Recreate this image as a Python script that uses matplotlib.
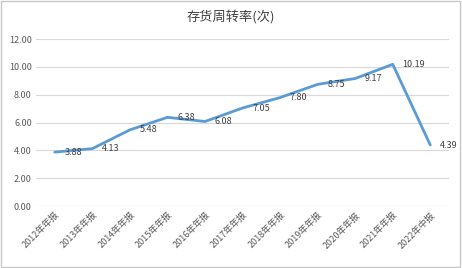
import matplotlib
matplotlib.use("Agg")
import matplotlib.pyplot as plt
from matplotlib.patches import Rectangle

plt.rcParams['font.family'] = ['Noto Sans CJK SC', 'DejaVu Sans']

categories = ['2012年年报', '2013年年报', '2014年年报', '2015年年报', '2016年年报',
              '2017年年报', '2018年年报', '2019年年报', '2020年年报', '2021年年报', '2022年中报']
values = [3.88, 4.13, 5.48, 6.38, 6.08, 7.05, 7.80, 8.75, 9.17, 10.19, 4.39]
yticks = [0, 2, 4, 6, 8, 10, 12]

fig = plt.figure(figsize=(4.62, 2.68), dpi=100)
fig.patches.append(Rectangle((0.002, 0.004), 0.994, 0.992, transform=fig.transFigure,
                             fill=False, edgecolor='#c8c8c8', linewidth=1.0))
ax = fig.add_axes([0.078, 0.231, 0.894, 0.623])

x = list(range(len(categories)))
ax.plot(x, values, color='#5B9BD5', linewidth=2.0, solid_capstyle='round', zorder=3)
for xi, v in zip(x, values):
    ax.annotate(f'{v:.2f}', (xi, v), xytext=(7, 0), textcoords='offset points',
                ha='left', va='center', fontsize=6.5, color='#404040')

ax.set_xlim(-0.5, len(categories) - 0.5)
ax.set_ylim(0, 12)
ax.set_yticks(yticks)
ax.set_yticklabels([f'{t:.2f}' for t in yticks], fontsize=6.5, color='#595959')
ax.set_xticks(x)
ax.set_xticklabels(categories, rotation=45, ha='right', rotation_mode='anchor',
                   fontsize=6.5, color='#595959')
ax.tick_params(axis='both', length=0, pad=3)
ax.grid(axis='y', color='#d9d9d9', linewidth=0.8)
ax.set_axisbelow(True)
for s in ax.spines.values():
    s.set_visible(False)

fig.text(0.5, 0.94, '存货周转率(次)', ha='center', va='center', fontsize=9.5, color='#404040')

fig.savefig('out.png', dpi=100)
